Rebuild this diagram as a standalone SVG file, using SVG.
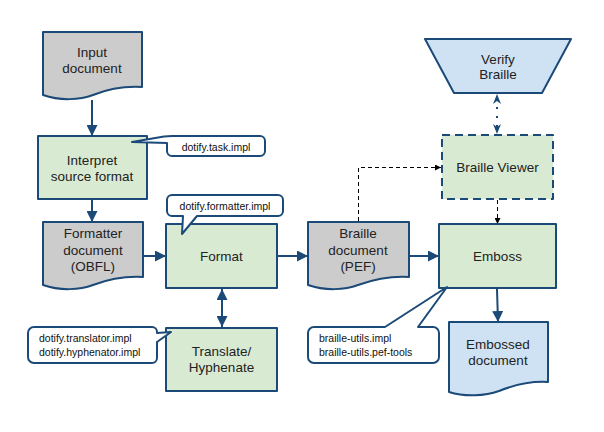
<svg xmlns="http://www.w3.org/2000/svg" width="604" height="432" viewBox="0 0 604 432">
<defs>
<style>
.n{stroke:#1c4a78;stroke-width:2;stroke-linejoin:round}
.g{fill:#d9ead3}.d{fill:#cccccc}.b{fill:#cfe2f3}
.t{font-family:"Liberation Sans",Arial,sans-serif;font-size:13.5px;fill:#222;text-anchor:middle}
.c{fill:#fff;stroke:#1c4a78;stroke-width:2;stroke-linejoin:round}
.ct{font-family:"Liberation Sans",Arial,sans-serif;font-size:10.5px;fill:#111}
.e{fill:none;stroke:#1c4a78;stroke-width:2}
.k{fill:none;stroke:#000;stroke-width:1;stroke-dasharray:4,3}
</style>
<marker id="a" markerUnits="userSpaceOnUse" markerWidth="11" markerHeight="11" refX="10" refY="5" orient="auto-start-reverse" viewBox="0 0 10 10"><path d="M0,0L10,5L0,10z" fill="#1c4a78"/></marker>
<marker id="ad" markerUnits="userSpaceOnUse" markerWidth="10" markerHeight="10" refX="10" refY="5" orient="auto-start-reverse" viewBox="0 0 10 10"><path d="M0,1L10,5L0,9L3,5z" fill="#1c4a78"/></marker>
<marker id="ak" markerUnits="userSpaceOnUse" markerWidth="6" markerHeight="6" refX="6" refY="3" orient="auto" viewBox="0 0 6 6"><path d="M0,0L6,3L0,6z" fill="#000"/></marker>
</defs>
<rect width="604" height="432" fill="#fff"/>
<g id="connectors">
<path class="e" d="M92,100V136" marker-end="url(#a)"/>
<path class="e" d="M92,199V222" marker-end="url(#a)"/>
<path class="e" d="M143,256H166" marker-end="url(#a)"/>
<path class="e" d="M222,289V327" marker-start="url(#a)" marker-end="url(#a)"/>
<path class="e" d="M277,256H308" marker-end="url(#a)"/>
<path class="e" d="M409,256H439" marker-end="url(#a)"/>
<path class="e" d="M497,289L498,322" marker-end="url(#a)"/>
<path class="e" d="M497,94V134" stroke-dasharray="2,7" stroke-dashoffset="-4" marker-start="url(#ad)" marker-end="url(#ad)"/>
<path class="k" d="M358.5,221V167.5H441" marker-end="url(#ak)"/>
<path class="k" d="M497.5,200V224" marker-end="url(#ak)"/>
</g>
<g id="input-document">
<path class="n d" d="M43,32H142V87C125,86 108,89 93,95C80,100 60,101 43,95Z"/>
<text class="t" x="92" y="57">Input</text>
<text class="t" x="92" y="73">document</text>
</g>
<g id="interpret">
<rect class="n g" x="38" y="136" width="109" height="63"/>
<text class="t" x="92" y="165">Interpret</text>
<text class="t" x="92" y="181">source format</text>
</g>
<g id="callout-task">
<path class="c" d="M172,136H260A5,5 0 0 1 265,141V151A5,5 0 0 1 260,156H172A5,5 0 0 1 167,151V143L132,142L164,136.5Z"/>
<text class="ct" x="216" y="151" text-anchor="middle">dotify.task.impl</text>
</g>
<g id="formatter-document">
<path class="n d" d="M43,222H143V277C126,276 109,279 93,285C80,290 60,291 43,285Z"/>
<text class="t" x="93" y="238">Formatter</text>
<text class="t" x="93" y="255">document</text>
<text class="t" x="93" y="271">(OBFL)</text>
</g>
<g id="format">
<rect class="n g" x="166" y="224" width="111" height="64"/>
<text class="t" x="221.5" y="261">Format</text>
</g>
<g id="callout-formatter">
<path class="c" d="M172,195H278A5,5 0 0 1 283,200V211A5,5 0 0 1 278,216H197L182,234L183,216H172A5,5 0 0 1 167,211V200A5,5 0 0 1 172,195Z"/>
<text class="ct" x="225" y="210" text-anchor="middle">dotify.formatter.impl</text>
</g>
<g id="translate">
<rect class="n g" x="166" y="328" width="111" height="63"/>
<text class="t" x="221.5" y="356">Translate/</text>
<text class="t" x="221.5" y="372">Hyphenate</text>
</g>
<g id="callout-translator">
<path class="c" d="M34,327H152A5,5 0 0 1 157,332V333L171,332L157,342V358A5,5 0 0 1 152,363H34A6,6 0 0 1 28,357V333A6,6 0 0 1 34,327Z"/>
<text class="ct" x="39" y="342">dotify.translator.impl</text>
<text class="ct" x="39" y="356">dotify.hyphenator.impl</text>
</g>
<g id="braille-document">
<path class="n d" d="M308,222H409V277C392,276 375,279 358,285C345,290 325,291 308,285Z"/>
<text class="t" x="358" y="238">Braille</text>
<text class="t" x="358" y="255">document</text>
<text class="t" x="358" y="271">(PEF)</text>
</g>
<g id="emboss">
<rect class="n g" x="439" y="224" width="117" height="64"/>
<text class="t" x="497.5" y="261">Emboss</text>
</g>
<g id="callout-braille-utils">
<path class="c" d="M314,327H385L447,287L418,327H433A6,6 0 0 1 439,333V357A6,6 0 0 1 433,363H314A6,6 0 0 1 308,357V333A6,6 0 0 1 314,327Z"/>
<text class="ct" x="319" y="342">braille-utils.impl</text>
<text class="ct" x="319" y="356">braille-utils.pef-tools</text>
</g>
<g id="embossed-document">
<path class="n b" d="M449,322H548V382C531,381 514,385 499,391C485,396 465,397 449,392Z"/>
<text class="t" x="498" y="349">Embossed</text>
<text class="t" x="498" y="365">document</text>
</g>
<g id="braille-viewer">
<rect class="n g" x="442" y="135" width="111" height="64" stroke-dasharray="8,5"/>
<text class="t" x="497.5" y="172">Braille Viewer</text>
</g>
<g id="verify-braille">
<path class="n b" d="M425,39H571L542,93H454Z"/>
<text class="t" x="498" y="64">Verify</text>
<text class="t" x="498" y="79">Braille</text>
</g>
</svg>
